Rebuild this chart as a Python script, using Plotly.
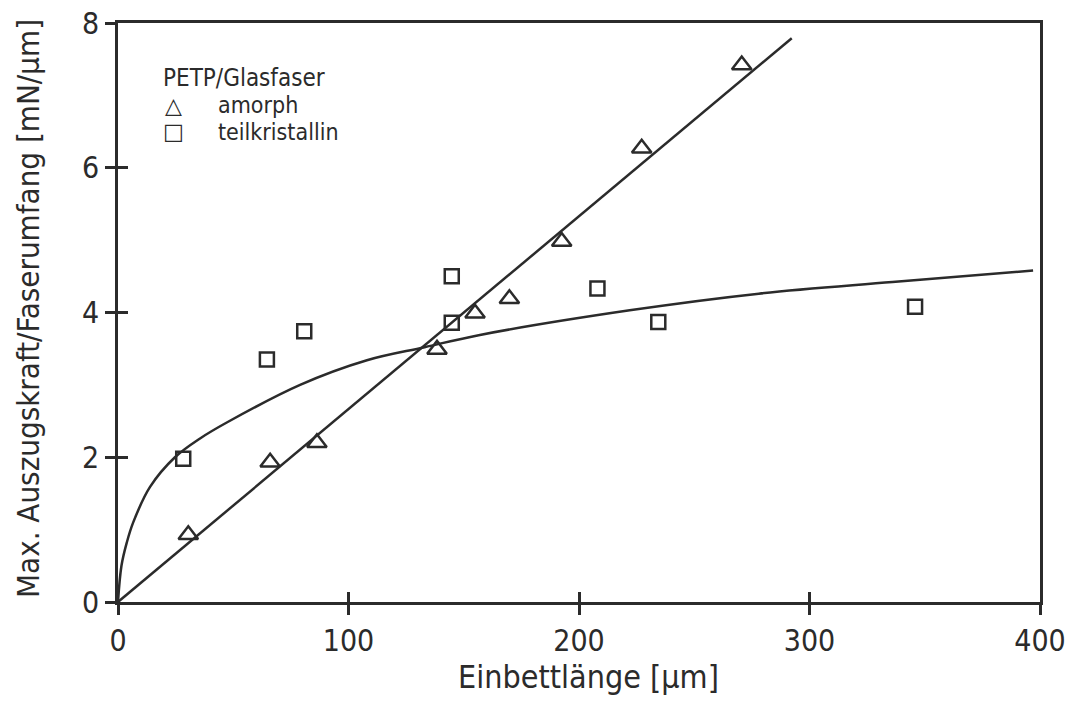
import plotly.graph_objects as go

# ---- data ----
amorph_x = [30.5, 66, 86.3, 138.4, 154.9, 169.8, 192.5, 227.2, 270.6]
amorph_y = [0.93, 1.93, 2.2, 3.49, 3.99, 4.19, 4.98, 6.27, 7.42]

teilk_x = [0, 28.3, 64.6, 80.8, 144.8, 144.8, 208, 234.4, 345.8]
teilk_y = [-0.08, 1.98, 3.35, 3.74, 3.86, 4.5, 4.33, 3.87, 4.08]

fit_amorph_x = [0, 292.3]
fit_amorph_y = [0, 7.79]

fit_teilk_x = [0, 1.5, 3.8, 6.6, 13.9, 24.7, 35.6, 47.2, 79, 108, 133, 157, 222, 278, 336, 397]
fit_teilk_y = [0, 0.5, 0.82, 1.1, 1.59, 2.0, 2.26, 2.48, 3.0, 3.34, 3.52, 3.69, 4.03, 4.26, 4.42, 4.58]

x_ticks = [0, 100, 200, 300, 400]
y_ticks = [0, 2, 4, 6, 8]

x_title = "Einbettlänge [µm]"
y_title = "Max. Auszugskraft/Faserumfang [mN/µm]"
legend_title = "PETP/Glasfaser"
legend_names = ["amorph", "teilkristallin"]
legend_symbols = ["△", "□"]

FONT = "DejaVu Sans Condensed, Liberation Sans Narrow, DejaVu Sans, sans-serif"
INK = "#2b2b2b"

# page body has an 8px margin, so the figure is drawn 8px in from the window edge
OFF = 8
W, H = 1060, 687
L, R, T, B = 110, 28, 15, 93
PW, PH = W - L - R, H - T - B


def px(x):  # window pixel -> paper coordinate
    return (x - OFF - L) / PW


def py(y):
    return (H - B - (y - OFF)) / PH


fig = go.Figure()
fig.add_trace(go.Scatter(x=fit_teilk_x, y=fit_teilk_y, mode="lines",
                         line=dict(color=INK, width=2.5, shape="spline", smoothing=1.0),
                         showlegend=False, hoverinfo="skip"))
fig.add_trace(go.Scatter(x=fit_amorph_x, y=fit_amorph_y, mode="lines",
                         line=dict(color=INK, width=2.5),
                         showlegend=False, hoverinfo="skip"))
fig.add_trace(go.Scatter(x=amorph_x, y=amorph_y, mode="markers", name=legend_names[0],
                         marker=dict(symbol="triangle-up-open", size=17, color=INK,
                                     line=dict(width=2.5, color=INK)),
                         cliponaxis=False, showlegend=False))
fig.add_trace(go.Scatter(x=teilk_x, y=teilk_y, mode="markers", name=legend_names[1],
                         marker=dict(symbol="square-open", size=14, color=INK,
                                     line=dict(width=2.5, color=INK)),
                         cliponaxis=False, showlegend=False))
fig.add_trace(go.Scatter(x=[None], y=[None], xaxis="x2", yaxis="y2",
                         showlegend=False, hoverinfo="skip"))

axis_common = dict(showgrid=False, zeroline=False, showline=True, linewidth=2.5,
                   linecolor=INK, mirror=True, ticks="outside", ticklen=10,
                   tickwidth=2.5, tickcolor=INK, automargin=False,
                   ticklabeloverflow="allow",
                   tickfont=dict(size=30, color=INK, family=FONT))

fig.update_layout(
    width=W, height=H,
    margin=dict(l=L, r=R, t=T, b=B),
    paper_bgcolor="white", plot_bgcolor="white",
    font=dict(family=FONT, color=INK),
    xaxis=dict(range=[0, 400], tickvals=x_ticks, **axis_common),
    yaxis=dict(range=[0, 8], tickvals=y_ticks, **axis_common),
    xaxis2=dict(range=[0, 400], overlaying="x", anchor="y", side="bottom", tickvals=x_ticks,
                ticks="inside", ticklen=10, tickwidth=2.5, tickcolor=INK, automargin=False,
                showticklabels=False, showline=False, showgrid=False, zeroline=False),
    yaxis2=dict(range=[0, 8], overlaying="y", anchor="x", side="left", tickvals=y_ticks,
                ticks="inside", ticklen=10, tickwidth=2.5, tickcolor=INK, automargin=False,
                showticklabels=False, showline=False, showgrid=False, zeroline=False),
    showlegend=False,
)

ann = []
ann.append(dict(text=x_title, x=px(588), y=py(677), xref="paper", yref="paper",
                xanchor="center", yanchor="middle", showarrow=False,
                font=dict(size=32, color=INK, family=FONT)))
ann.append(dict(text=y_title, x=px(28), y=py(309), xref="paper", yref="paper",
                xanchor="center", yanchor="middle", showarrow=False, textangle=-90,
                font=dict(size=31, color=INK, family=FONT)))
ann.append(dict(text=legend_title, x=px(161), y=py(78), xref="paper", yref="paper",
                xanchor="left", yanchor="middle", showarrow=False,
                font=dict(size=24, color=INK, family=FONT)))
for i, (sym, name) in enumerate(zip(legend_symbols, legend_names)):
    yy = py(105 + 27 * i)
    ann.append(dict(text=sym, x=px(173), y=yy, xref="paper", yref="paper",
                    xanchor="center", yanchor="middle", showarrow=False,
                    font=dict(size=22, color=INK, family="DejaVu Sans", weight="bold")))
    ann.append(dict(text=name, x=px(216), y=yy, xref="paper", yref="paper",
                    xanchor="left", yanchor="middle", showarrow=False,
                    font=dict(size=23, color=INK, family=FONT)))
fig.update_layout(annotations=ann)

fig.write_html("out.html")
